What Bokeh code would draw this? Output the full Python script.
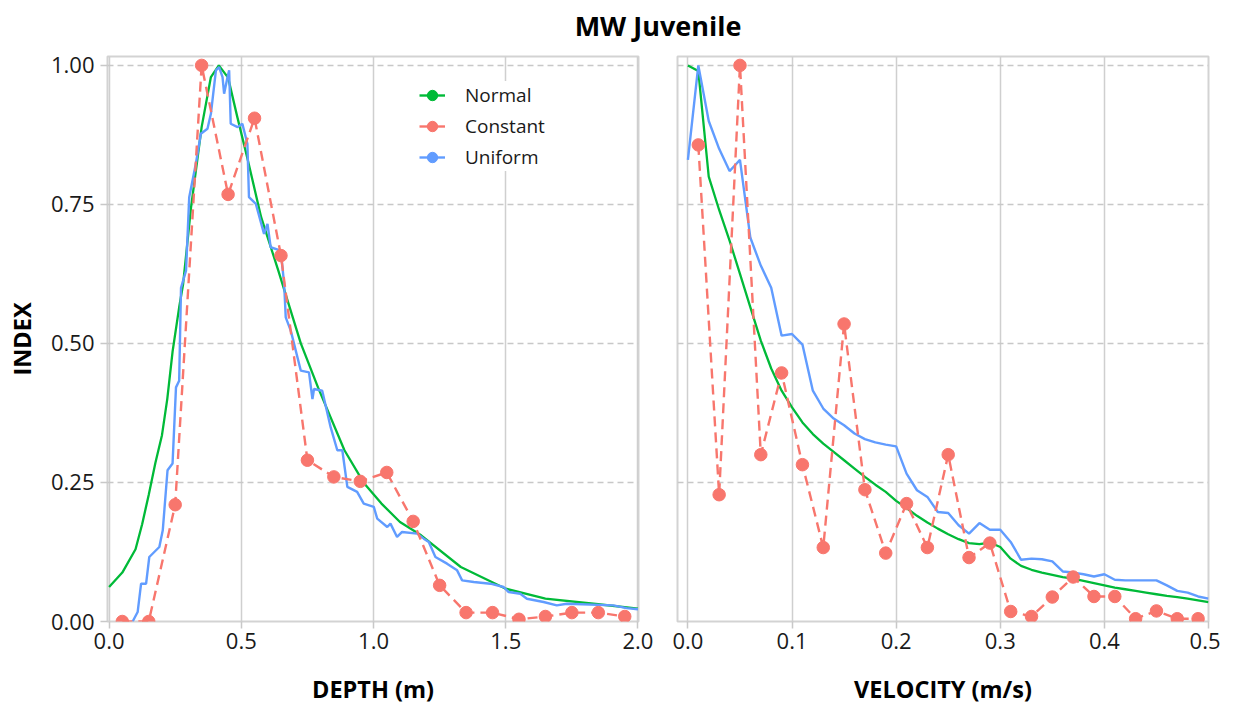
from bokeh.plotting import figure
from bokeh.models import Range1d, Legend, LegendItem, FixedTicker, NumeralTickFormatter
from bokeh.layouts import column, row
from bokeh.embed import file_html
from bokeh.resources import INLINE
from bokeh.core.validation import silence
from bokeh.core.validation.warnings import MISSING_RENDERERS

silence(MISSING_RENDERERS, True)

TITLE = "MW Juvenile"
Y_LABEL = "INDEX"
DEPTH_LABEL = "DEPTH (m)"
VEL_LABEL = "VELOCITY (m/s)"
SERIES = ["Normal", "Constant", "Uniform"]
COLORS = ["#00BA38", "#F8766D", "#619CFF"]

y_ticks = [0, 0.25, 0.5, 0.75, 1.0]
depth_ticks = [0, 0.5, 1.0, 1.5, 2.0]
vel_ticks = [0, 0.1, 0.2, 0.3, 0.4, 0.5]

# ---- DEPTH panel ----
depth_normal_x = [0, 0.05, 0.1, 0.125, 0.15, 0.175, 0.2, 0.22, 0.24, 0.265, 0.28, 0.31, 0.35, 0.385,
                  0.415, 0.45, 0.485, 0.525, 0.575, 0.64, 0.675, 0.725, 0.79, 0.89, 0.965, 1.03,
                  1.1, 1.18, 1.33, 1.5, 1.65, 1.85, 2.0]
depth_normal_y = [0.062, 0.088, 0.13, 0.175, 0.228, 0.285, 0.335, 0.40, 0.485, 0.565, 0.607, 0.745,
                  0.889, 0.979, 1.0, 0.978, 0.907, 0.829, 0.727, 0.631, 0.577, 0.50, 0.421, 0.308,
                  0.248, 0.212, 0.179, 0.155, 0.098, 0.059, 0.041, 0.031, 0.023]

depth_const_x = [0.05, 0.15, 0.25, 0.35, 0.45, 0.55, 0.65, 0.75, 0.85, 0.95, 1.05, 1.15, 1.25,
                 1.35, 1.45, 1.55, 1.65, 1.75, 1.85, 1.95]
depth_const_y = [0.0, 0.0, 0.21, 1.0, 0.768, 0.905, 0.658, 0.29, 0.26, 0.252, 0.268, 0.18, 0.065,
                 0.016, 0.016, 0.004, 0.009, 0.016, 0.016, 0.009]

depth_unif_x = [0.089, 0.108, 0.121, 0.14, 0.152, 0.19, 0.203, 0.221, 0.24, 0.253, 0.265, 0.272,
                0.291, 0.303, 0.328, 0.347, 0.372, 0.385, 0.404, 0.416, 0.429, 0.435, 0.448, 0.454,
                0.46, 0.486, 0.504, 0.523, 0.529, 0.555, 0.586, 0.599, 0.611, 0.649, 0.662, 0.668,
                0.687, 0.725, 0.756, 0.769, 0.775, 0.806, 0.838, 0.863, 0.882, 0.901, 0.938, 0.963,
                1.001, 1.014, 1.052, 1.064, 1.089, 1.108, 1.165, 1.19, 1.209, 1.234, 1.278, 1.316,
                1.335, 1.379, 1.442, 1.492, 1.511, 1.555, 1.58, 1.643, 1.693, 1.731, 1.907, 1.957, 2.0]
depth_unif_y = [0.0, 0.017, 0.068, 0.068, 0.116, 0.134, 0.164, 0.272, 0.284, 0.421, 0.433, 0.60,
                0.631, 0.763, 0.823, 0.877, 0.886, 0.913, 0.991, 0.997, 0.979, 0.949, 0.979, 0.991,
                0.895, 0.889, 0.895, 0.859, 0.763, 0.751, 0.697, 0.715, 0.673, 0.667, 0.607, 0.547,
                0.523, 0.451, 0.448, 0.40, 0.418, 0.415, 0.349, 0.308, 0.308, 0.242, 0.233, 0.212,
                0.206, 0.185, 0.17, 0.176, 0.152, 0.161, 0.158, 0.149, 0.143, 0.116, 0.104, 0.092,
                0.074, 0.071, 0.068, 0.062, 0.053, 0.05, 0.041, 0.035, 0.029, 0.032, 0.029, 0.024, 0.022]

# ---- VELOCITY panel ----
vel_normal_x = [i / 100 for i in range(51)]
vel_normal_y = [1.0, 0.99, 0.80, 0.74, 0.685, 0.625, 0.565, 0.505, 0.455, 0.415, 0.385, 0.358,
                0.337, 0.32, 0.305, 0.29, 0.275, 0.26, 0.246, 0.233, 0.217, 0.204, 0.19, 0.178,
                0.167, 0.157, 0.148, 0.141, 0.139, 0.142, 0.134, 0.113, 0.100, 0.093, 0.088, 0.084,
                0.080, 0.077, 0.073, 0.069, 0.065, 0.061, 0.058, 0.055, 0.052, 0.049, 0.046, 0.044,
                0.041, 0.038, 0.035]

vel_const_x = [0.01, 0.03, 0.05, 0.07, 0.09, 0.11, 0.13, 0.15, 0.17, 0.19, 0.21, 0.23, 0.25,
               0.27, 0.29, 0.31, 0.33, 0.35, 0.37, 0.39, 0.41, 0.43, 0.45, 0.47, 0.49]
vel_const_y = [0.857, 0.228, 1.0, 0.30, 0.447, 0.282, 0.133, 0.535, 0.237, 0.123, 0.212, 0.133,
               0.30, 0.115, 0.141, 0.018, 0.009, 0.044, 0.08, 0.045, 0.045, 0.005, 0.019, 0.005, 0.005]

vel_unif_x = [0, 0.01, 0.02, 0.03, 0.04, 0.045, 0.05, 0.06, 0.07, 0.08, 0.09, 0.10, 0.11, 0.12,
              0.13, 0.14, 0.15, 0.16, 0.17, 0.18, 0.19, 0.20, 0.21, 0.22, 0.23, 0.24, 0.25, 0.26,
              0.27, 0.28, 0.29, 0.30, 0.31, 0.32, 0.33, 0.34, 0.35, 0.36, 0.37, 0.38, 0.39, 0.40,
              0.41, 0.42, 0.43, 0.44, 0.45, 0.46, 0.47, 0.48, 0.49, 0.50]
vel_unif_y = [0.83, 1.0, 0.90, 0.85, 0.81, 0.82, 0.83, 0.69, 0.64, 0.60, 0.514, 0.517, 0.498,
              0.415, 0.383, 0.365, 0.353, 0.338, 0.328, 0.322, 0.318, 0.315, 0.266, 0.236, 0.224,
              0.197, 0.195, 0.173, 0.158, 0.177, 0.165, 0.165, 0.143, 0.111, 0.113, 0.112, 0.108,
              0.09, 0.088, 0.085, 0.081, 0.085, 0.075, 0.074, 0.074, 0.074, 0.074, 0.065, 0.055,
              0.052, 0.045, 0.041]

FONT = "Open Sans"
TEXT = "#1a1a1a"
FRAME_H = 565
BOTTOM = 86


def make_panel(width, xr, xticks, xfmt, xlabel, border_left, border_right, show_y):
    p = figure(width=width, height=8 + FRAME_H + BOTTOM, x_range=Range1d(*xr),
               y_range=Range1d(0, 1.016), toolbar_location=None, output_backend="svg",
               min_border_left=border_left, min_border_right=border_right,
               min_border_top=8, min_border_bottom=BOTTOM)
    p.outline_line_color = "#d3d3d3"
    p.outline_line_width = 2
    p.background_fill_color = "white"
    p.border_fill_color = "white"

    p.xaxis.ticker = FixedTicker(ticks=xticks)
    p.xaxis.formatter = NumeralTickFormatter(format=xfmt)
    p.xaxis.axis_label = xlabel
    p.yaxis.ticker = FixedTicker(ticks=y_ticks)
    p.yaxis.formatter = NumeralTickFormatter(format="0.00")
    p.yaxis.axis_label = Y_LABEL

    for ax in (p.xaxis[0], p.yaxis[0]):
        ax.axis_line_color = None
        ax.major_tick_line_color = "#c8c8c8"
        ax.major_tick_line_width = 1.5
        ax.major_tick_out = 7
        ax.major_tick_in = 0
        ax.minor_tick_line_color = None
        ax.major_label_text_font = FONT
        ax.major_label_text_font_size = "22px"
        ax.major_label_text_color = TEXT
        ax.axis_label_text_font = FONT
        ax.axis_label_text_font_size = "23.5px"
        ax.axis_label_text_font_style = "bold"
        ax.axis_label_text_color = "black"
    p.xaxis.major_label_standoff = 4
    p.xaxis.axis_label_standoff = 21
    p.yaxis.major_label_standoff = 6
    p.yaxis.axis_label_standoff = 10
    p.yaxis.visible = show_y

    p.xgrid.grid_line_color = "#cfcfcf"
    p.xgrid.grid_line_width = 1.5
    p.ygrid.ticker = FixedTicker(ticks=y_ticks)
    p.ygrid.grid_line_color = "#c8c8c8"
    p.ygrid.grid_line_width = 1.5
    p.ygrid.grid_line_dash = "6 4"
    return p


def draw(p, nx, ny, cx, cy, ux, uy):
    p.line(nx, ny, line_color=COLORS[0], line_width=2.3)
    p.line(ux, uy, line_color=COLORS[2], line_width=2.4)
    p.line(cx, cy, line_color=COLORS[1], line_width=2.4, line_dash="10 6")
    p.scatter(cx, cy, size=12.5, fill_color=COLORS[1], line_color=COLORS[1])


p1 = make_panel(657, (-0.006, 2.002), depth_ticks, "0.0", DEPTH_LABEL, 107, 19, True)
draw(p1, depth_normal_x, depth_normal_y, depth_const_x, depth_const_y, depth_unif_x, depth_unif_y)

p2 = make_panel(563, (-0.01, 0.5), vel_ticks, "0.0", VEL_LABEL, 20, 12, False)
draw(p2, vel_normal_x, vel_normal_y, vel_const_x, vel_const_y, vel_unif_x, vel_unif_y)

# legend (legend-only glyphs: a line with a dot for each series)
NAN = float("nan")
items = []
for name, col in zip(SERIES, COLORS):
    lr = p1.line([NAN, NAN], [NAN, NAN], line_color=col, line_width=2.4)
    sr = p1.scatter([NAN], [NAN], size=11, fill_color=col, line_color=col)
    items.append(LegendItem(label=name, renderers=[lr, sr]))
legend = Legend(items=items, location=(312, 450))
legend.background_fill_color = "white"
legend.background_fill_alpha = 1
legend.border_line_color = None
legend.label_text_font = FONT
legend.label_text_font_size = "19px"
legend.label_text_color = TEXT
legend.glyph_width = 26
legend.glyph_height = 28
legend.label_height = 28
legend.label_standoff = 20
legend.spacing = 3
legend.padding = 6
legend.margin = 0
p1.add_layout(legend)

# title
pt = figure(width=1220, height=48, toolbar_location=None, output_backend="svg",
            min_border_left=107, min_border_right=12, min_border_top=7, min_border_bottom=0,
            x_range=Range1d(0, 1), y_range=Range1d(0, 1))
pt.axis.visible = False
pt.grid.visible = False
pt.outline_line_color = None
pt.title.text = TITLE
pt.title.align = "center"
pt.title.text_font = FONT
pt.title.text_font_size = "27px"
pt.title.text_font_style = "bold"
pt.title.text_color = "black"

layout = column(pt, row(p1, p2))
open("out.html", "w").write(file_html(layout, INLINE))
